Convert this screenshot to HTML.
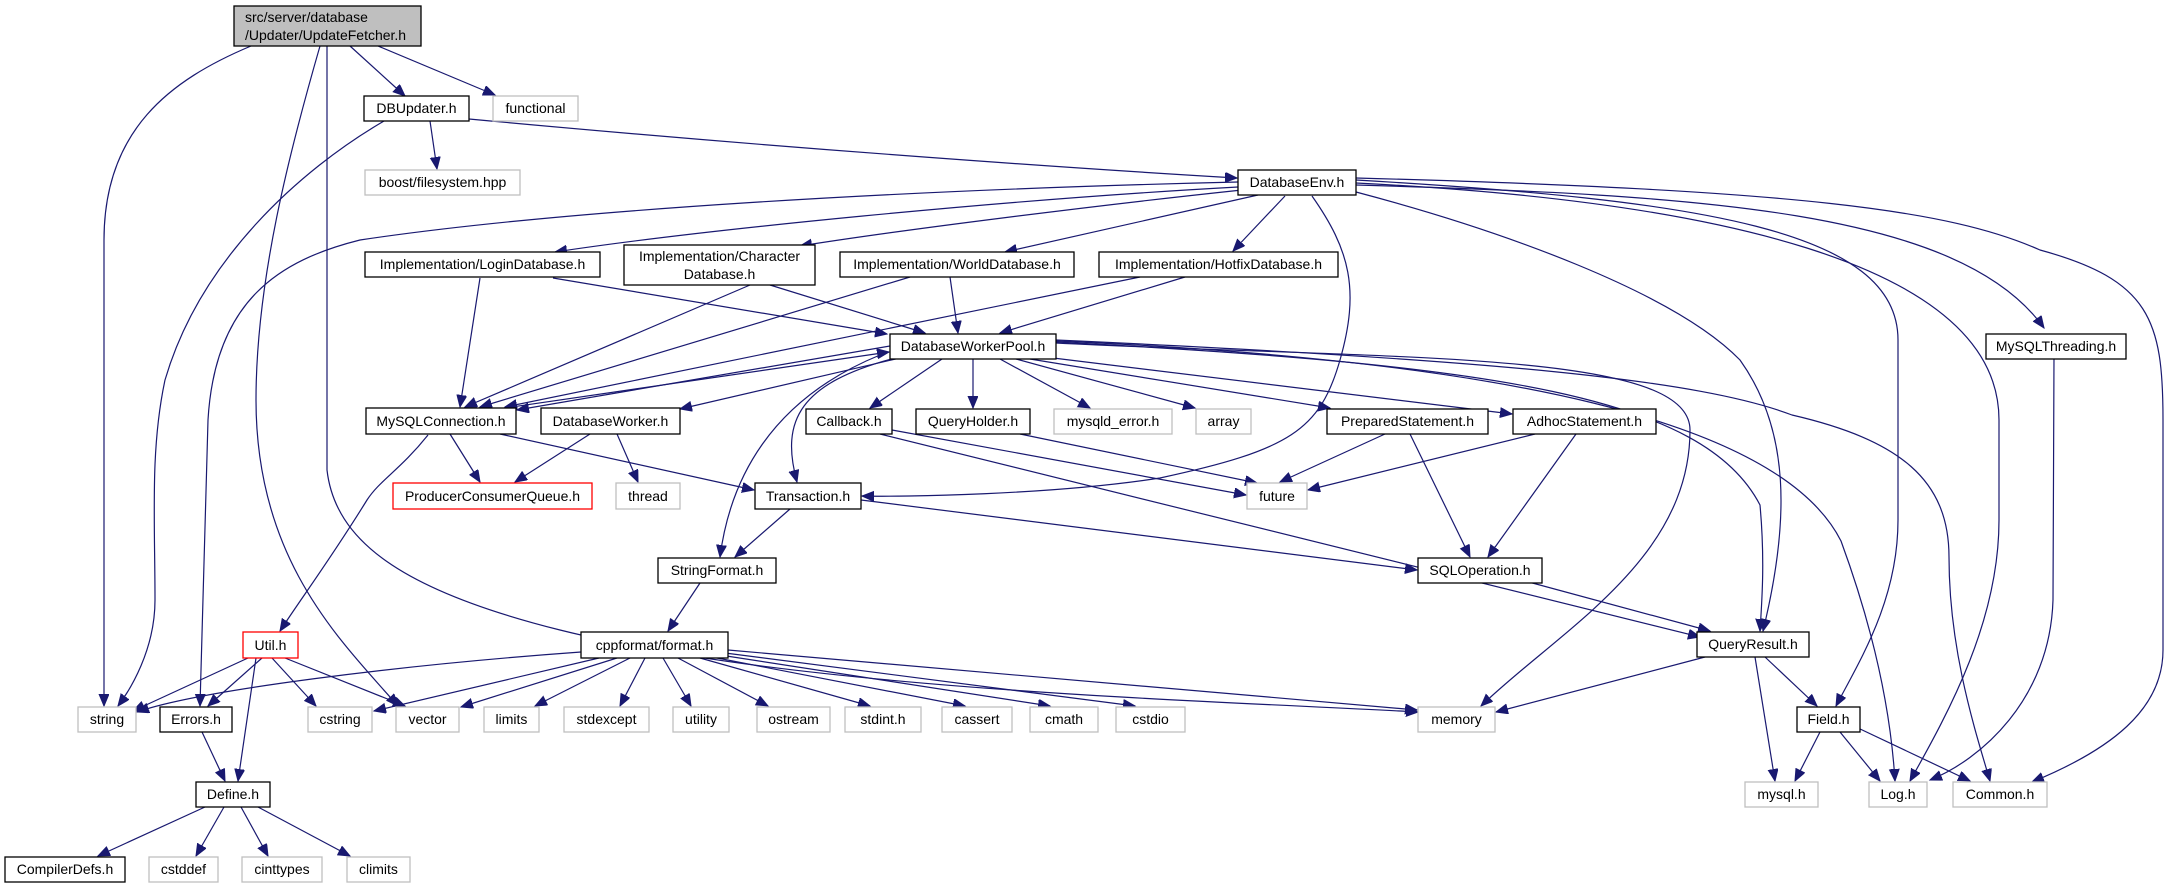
<!DOCTYPE html>
<html><head><meta charset="utf-8"><style>
html,body{margin:0;padding:0;background:#fff;}
svg{display:block;}
text{font-family:"Liberation Sans",sans-serif;font-size:14px;fill:#000;}
.b{fill:#fff;stroke:#000;stroke-width:1.3;}
.g{fill:#fff;stroke:#bfbfbf;stroke-width:1.3;}
.r{fill:#fff;stroke:#ff0000;stroke-width:1.3;}
path{fill:none;stroke:#191970;stroke-width:1.2;marker-end:url(#a);}
</style></head><body>
<svg width="2165" height="888" viewBox="0 0 2165 888" xmlns="http://www.w3.org/2000/svg">
<defs><marker id="a" markerUnits="userSpaceOnUse" markerWidth="14" markerHeight="12" refX="12" refY="5" orient="auto"><polygon points="0,0 12,5 0,10" fill="#191970" stroke="#191970"/></marker></defs>

<!-- edges -->
<path d="M350,46 L405,96"/>
<path d="M378,46 L495,95"/>
<path d="M251,46 C170,80 104,130 104,240 L104,706"/>
<path d="M320,46 C290,150 256,280 256,400 C256,560 340,640 398,706"/>
<path d="M327,46 L327,470 C335,540 400,590 560,630 C800,690 1200,700 1418,712"/>
<path d="M430,121 L437,169"/>
<path d="M384,121 C300,170 200,260 165,380 C150,450 155,520 155,600 C155,650 130,690 118,706"/>
<path d="M469,119 C800,150 1100,170 1237,178"/>
<path d="M1238,182 C900,190 560,210 360,240 C280,260 215,300 208,420 L200,706"/>
<path d="M1238,187 C1000,200 700,230 555,252"/>
<path d="M1242,190 C1100,205 900,230 800,246"/>
<path d="M1258,195 L1005,252"/>
<path d="M1285,196 L1233,251"/>
<path d="M1312,196 C1350,250 1360,290 1340,360 C1320,430 1290,450 1160,478 C1050,495 900,497 862,496"/>
<path d="M1356,192 C1500,230 1674,292 1740,360 C1790,430 1790,520 1763,631"/>
<path d="M1356,180 C1700,200 1898,230 1898,340 L1898,520 C1898,600 1860,660 1836,706"/>
<path d="M1356,183 C1700,200 1999,260 1999,420 L1999,520 C1999,620 1950,710 1910,781"/>
<path d="M1356,185 C1700,195 1960,210 2044,328"/>
<path d="M1356,178 C1800,190 1950,210 2040,250 C2150,280 2163,320 2163,420 L2163,650 C2163,710 2110,750 2032,782"/>
<path d="M553,278 L887,334"/>
<path d="M770,285 L925,333"/>
<path d="M950,277 L958,333"/>
<path d="M1185,277 L1000,333"/>
<path d="M480,278 L460,407"/>
<path d="M750,285 L465,407"/>
<path d="M910,277 L480,407"/>
<path d="M1140,277 L505,407"/>
<path d="M890,346 L517,410"/>
<path d="M505,408 L889,352"/>
<path d="M900,358 L680,409"/>
<path d="M942,359 L870,408"/>
<path d="M973,359 L973,408"/>
<path d="M1000,359 L1090,408"/>
<path d="M1016,359 L1195,408"/>
<path d="M1030,359 L1330,408"/>
<path d="M1045,357 L1512,414"/>
<path d="M895,358 C800,383 780,420 797,482"/>
<path d="M880,355 C770,400 730,480 720,557"/>
<path d="M1056,343 C1400,360 1690,350 1690,430 C1690,560 1560,630 1481,706"/>
<path d="M1056,342 C1500,365 1704,397 1760,505 C1765,560 1762,600 1760,631"/>
<path d="M1056,341 C1500,360 1780,420 1841,541 C1870,620 1890,700 1895,781"/>
<path d="M1056,340 C1500,360 1700,380 1792,415 C1900,440 1949,480 1949,557 C1949,650 1975,730 1990,781"/>
<path d="M450,434 L480,482"/>
<path d="M500,434 L754,490"/>
<path d="M428,435 C400,470 380,480 367,500 C330,560 300,600 280,631"/>
<path d="M590,434 L515,482"/>
<path d="M617,434 L638,482"/>
<path d="M892,430 L1246,495"/>
<path d="M880,434 L1700,637"/>
<path d="M1020,434 L1257,483"/>
<path d="M1385,434 L1280,482"/>
<path d="M1410,434 L1470,557"/>
<path d="M1535,434 L1308,490"/>
<path d="M1576,434 L1488,557"/>
<path d="M790,509 L735,557"/>
<path d="M861,500 L1417,570"/>
<path d="M700,583 L668,631"/>
<path d="M1525,581 L1710,631"/>
<path d="M1705,657 L1496,712"/>
<path d="M1765,657 L1817,706"/>
<path d="M1755,657 L1775,781"/>
<path d="M1820,732 L1795,781"/>
<path d="M1840,732 L1880,781"/>
<path d="M1858,728 L1970,781"/>
<path d="M2054,355 L2053,600 C2050,700 1980,760 1930,780"/>
<path d="M248,658 L133,711"/>
<path d="M262,658 L208,706"/>
<path d="M256,658 L238,781"/>
<path d="M272,658 L316,706"/>
<path d="M285,658 L405,706"/>
<path d="M581,652 C400,665 200,690 137,712"/>
<path d="M599,658 L374,711"/>
<path d="M617,658 L461,707"/>
<path d="M630,658 L535,706"/>
<path d="M645,658 L620,706"/>
<path d="M663,658 L691,706"/>
<path d="M678,658 L768,706"/>
<path d="M700,658 L870,706"/>
<path d="M712,657 L965,706"/>
<path d="M720,655 L1050,706"/>
<path d="M725,653 L1135,706"/>
<path d="M728,650 L1417,710"/>
<path d="M202,732 L225,781"/>
<path d="M205,807 L98,856"/>
<path d="M224,807 L196,856"/>
<path d="M241,807 L268,856"/>
<path d="M258,807 L350,856"/>

<!-- nodes -->
<rect x="234" y="6" width="187" height="40" fill="#bfbfbf" stroke="#000" stroke-width="1.3"/>
<text x="245" y="22">src/server/database</text><text x="245" y="40">/Updater/UpdateFetcher.h</text>
<rect class="b" x="364" y="96" width="105" height="25"/><text x="416.5" y="113" text-anchor="middle">DBUpdater.h</text>
<rect class="g" x="493" y="96" width="85" height="25"/><text x="535.5" y="113" text-anchor="middle">functional</text>
<rect class="g" x="365" y="170" width="155" height="25"/><text x="442.5" y="187" text-anchor="middle">boost/filesystem.hpp</text>
<rect class="b" x="1238" y="170" width="118" height="25"/><text x="1297" y="187" text-anchor="middle">DatabaseEnv.h</text>
<rect class="b" x="365" y="252" width="235" height="25"/><text x="482.5" y="269" text-anchor="middle">Implementation/LoginDatabase.h</text>
<rect class="b" x="624" y="245" width="191" height="40"/><text x="719.5" y="261" text-anchor="middle">Implementation/Character</text><text x="719.5" y="279" text-anchor="middle">Database.h</text>
<rect class="b" x="840" y="252" width="234" height="25"/><text x="957" y="269" text-anchor="middle">Implementation/WorldDatabase.h</text>
<rect class="b" x="1099" y="252" width="239" height="25"/><text x="1218.5" y="269" text-anchor="middle">Implementation/HotfixDatabase.h</text>
<rect class="b" x="890" y="334" width="166" height="25"/><text x="973" y="351" text-anchor="middle">DatabaseWorkerPool.h</text>
<rect class="b" x="1986" y="334" width="140" height="25"/><text x="2056" y="351" text-anchor="middle">MySQLThreading.h</text>
<rect class="b" x="366" y="408" width="150" height="26"/><text x="441" y="426" text-anchor="middle">MySQLConnection.h</text>
<rect class="b" x="541" y="408" width="139" height="26"/><text x="610.5" y="426" text-anchor="middle">DatabaseWorker.h</text>
<rect class="b" x="806" y="409" width="86" height="25"/><text x="849" y="426" text-anchor="middle">Callback.h</text>
<rect class="b" x="916" y="409" width="114" height="25"/><text x="973" y="426" text-anchor="middle">QueryHolder.h</text>
<rect class="g" x="1054" y="409" width="118" height="25"/><text x="1113" y="426" text-anchor="middle">mysqld_error.h</text>
<rect class="g" x="1196" y="409" width="55" height="25"/><text x="1223.5" y="426" text-anchor="middle">array</text>
<rect class="b" x="1327" y="409" width="161" height="25"/><text x="1407.5" y="426" text-anchor="middle">PreparedStatement.h</text>
<rect class="b" x="1513" y="409" width="143" height="25"/><text x="1584.5" y="426" text-anchor="middle">AdhocStatement.h</text>
<rect class="r" x="393" y="483" width="199" height="26"/><text x="492.5" y="501" text-anchor="middle">ProducerConsumerQueue.h</text>
<rect class="g" x="616" y="483" width="64" height="26"/><text x="648" y="501" text-anchor="middle">thread</text>
<rect class="b" x="755" y="483" width="106" height="26"/><text x="808" y="501" text-anchor="middle">Transaction.h</text>
<rect class="g" x="1247" y="483" width="60" height="26"/><text x="1277" y="501" text-anchor="middle">future</text>
<rect class="b" x="658" y="558" width="118" height="25"/><text x="717" y="575" text-anchor="middle">StringFormat.h</text>
<rect class="b" x="1418" y="558" width="124" height="25"/><text x="1480" y="575" text-anchor="middle">SQLOperation.h</text>
<rect class="r" x="243" y="632" width="55" height="26"/><text x="270.5" y="650" text-anchor="middle">Util.h</text>
<rect class="b" x="581" y="632" width="147" height="26"/><text x="654.5" y="650" text-anchor="middle">cppformat/format.h</text>
<rect class="b" x="1697" y="632" width="112" height="25"/><text x="1753" y="649" text-anchor="middle">QueryResult.h</text>
<rect class="g" x="78" y="707" width="58" height="25"/><text x="107" y="724" text-anchor="middle">string</text>
<rect class="b" x="160" y="707" width="72" height="25"/><text x="196" y="724" text-anchor="middle">Errors.h</text>
<rect class="g" x="308" y="707" width="64" height="25"/><text x="340" y="724" text-anchor="middle">cstring</text>
<rect class="g" x="396" y="707" width="63" height="25"/><text x="427.5" y="724" text-anchor="middle">vector</text>
<rect class="g" x="484" y="707" width="55" height="25"/><text x="511.5" y="724" text-anchor="middle">limits</text>
<rect class="g" x="564" y="707" width="85" height="25"/><text x="606.5" y="724" text-anchor="middle">stdexcept</text>
<rect class="g" x="673" y="707" width="56" height="25"/><text x="701" y="724" text-anchor="middle">utility</text>
<rect class="g" x="757" y="707" width="73" height="25"/><text x="793.5" y="724" text-anchor="middle">ostream</text>
<rect class="g" x="845" y="707" width="76" height="25"/><text x="883" y="724" text-anchor="middle">stdint.h</text>
<rect class="g" x="942" y="707" width="70" height="25"/><text x="977" y="724" text-anchor="middle">cassert</text>
<rect class="g" x="1030" y="707" width="68" height="25"/><text x="1064" y="724" text-anchor="middle">cmath</text>
<rect class="g" x="1116" y="707" width="69" height="25"/><text x="1150.5" y="724" text-anchor="middle">cstdio</text>
<rect class="g" x="1418" y="707" width="77" height="25"/><text x="1456.5" y="724" text-anchor="middle">memory</text>
<rect class="b" x="1797" y="707" width="63" height="25"/><text x="1828.5" y="724" text-anchor="middle">Field.h</text>
<rect class="b" x="196" y="782" width="74" height="25"/><text x="233" y="799" text-anchor="middle">Define.h</text>
<rect class="g" x="1745" y="782" width="73" height="25"/><text x="1781.5" y="799" text-anchor="middle">mysql.h</text>
<rect class="g" x="1869" y="782" width="58" height="25"/><text x="1898" y="799" text-anchor="middle">Log.h</text>
<rect class="g" x="1953" y="782" width="94" height="25"/><text x="2000" y="799" text-anchor="middle">Common.h</text>
<rect class="b" x="5" y="857" width="120" height="25"/><text x="65" y="874" text-anchor="middle">CompilerDefs.h</text>
<rect class="g" x="149" y="857" width="69" height="25"/><text x="183.5" y="874" text-anchor="middle">cstddef</text>
<rect class="g" x="242" y="857" width="80" height="25"/><text x="282" y="874" text-anchor="middle">cinttypes</text>
<rect class="g" x="347" y="857" width="63" height="25"/><text x="378.5" y="874" text-anchor="middle">climits</text>
</svg>
</body></html>
